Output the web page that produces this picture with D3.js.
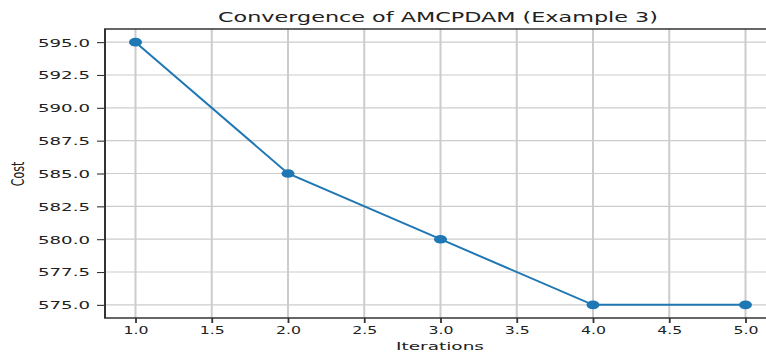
<!DOCTYPE html>
<html>
<head>
<meta charset="utf-8">
<script src="https://cdn.jsdelivr.net/npm/d3@7"></script>
<style>
  body { margin: 0; background: #fff; }
  svg { display: block; }
  text { font-family: "DejaVu Sans", sans-serif; fill: #222; }
</style>
</head>
<body>
<svg id="chart" width="766" height="352"></svg>
<script>
// values
const iterations = [1, 2, 3, 4, 5];
const cost = [595, 585, 580, 575, 575];
const xTicks = [1.0, 1.5, 2.0, 2.5, 3.0, 3.5, 4.0, 4.5, 5.0];
const yTicks = [575.0, 577.5, 580.0, 582.5, 585.0, 587.5, 590.0, 592.5, 595.0];

const W = 766, H = 352;
// the picture is stretched sideways, so text is widened too
const stretch = 1.6;
const margin = { top: 29, right: -10, bottom: 34, left: 105 };
const width = W - margin.left - margin.right;
const height = H - margin.top - margin.bottom;

const svg = d3.select('#chart');

const x = d3.scaleLinear().domain([0.8, 5.2]).range([0, width]);
const y = d3.scaleLinear().domain([574, 596]).range([height, 0]);

const main = svg.append('g')
    .attr('transform', `translate(${margin.left}, ${margin.top})`);

// grid
main.append('g').selectAll('line').data(xTicks).enter().append('line')
    .attr('x1', d => x(d)).attr('x2', d => x(d))
    .attr('y1', 0).attr('y2', height)
    .attr('stroke', '#cccccc').attr('stroke-width', 2);
main.append('g').selectAll('line').data(yTicks).enter().append('line')
    .attr('x1', 0).attr('x2', width)
    .attr('y1', d => y(d)).attr('y2', d => y(d))
    .attr('stroke', '#cccccc').attr('stroke-width', 1.2);

// axes
const xAxis = main.append('g')
    .attr('transform', `translate(0, ${height})`)
    .call(d3.axisBottom(x).tickValues(xTicks).tickFormat(d3.format('.1f')).tickSize(5).tickSizeOuter(0));
xAxis.select('.domain').remove();
xAxis.selectAll('line').attr('stroke', '#333').attr('stroke-width', 1.8);
xAxis.selectAll('text')
    .attr('y', 16).attr('dy', 0)
    .style('font-size', '11px').style('fill', '#222')
    .attr('textLength', 25).attr('lengthAdjust', 'spacingAndGlyphs')
    .attr('text-anchor', 'middle');

const yAxis = main.append('g')
    .call(d3.axisLeft(y).tickValues(yTicks).tickFormat(d3.format('.1f')).tickSize(8).tickSizeOuter(0));
yAxis.select('.domain').remove();
yAxis.selectAll('line').attr('stroke', '#333').attr('stroke-width', 1.1);
yAxis.selectAll('text')
    .attr('x', -15).attr('dy', '0.36em')
    .style('font-size', '11px').style('fill', '#222')
    .attr('textLength', 52).attr('lengthAdjust', 'spacingAndGlyphs');

// spines
main.append('line').attr('x1', 0).attr('x2', 0).attr('y1', 0).attr('y2', height)
    .attr('stroke', '#333').attr('stroke-width', 2);
main.append('line').attr('x1', -1).attr('x2', width).attr('y1', height).attr('y2', height)
    .attr('stroke', '#333').attr('stroke-width', 1.3);
main.append('line').attr('x1', -1).attr('x2', width).attr('y1', 0).attr('y2', 0)
    .attr('stroke', '#333').attr('stroke-width', 1.3);

// series
const pts = iterations.map((d, i) => ({ it: d, c: cost[i] }));
main.append('path')
    .datum(pts)
    .attr('fill', 'none')
    .attr('stroke', '#1f77b4')
    .attr('stroke-width', 2)
    .attr('d', d3.line().x(d => x(d.it)).y(d => y(d.c)));

main.append('g').selectAll('ellipse').data(pts).enter().append('ellipse')
    .attr('cx', d => x(d.it)).attr('cy', d => y(d.c))
    .attr('rx', 6.5).attr('ry', 4.3)
    .attr('fill', '#1f77b4');

// labels
svg.append('text')
    .attr('x', 438).attr('y', 22)
    .attr('text-anchor', 'middle')
    .style('font-size', '14px')
    .attr('textLength', 440).attr('lengthAdjust', 'spacingAndGlyphs')
    .text('Convergence of AMCPDAM (Example 3)');

svg.append('text')
    .attr('x', 440).attr('y', 350)
    .attr('text-anchor', 'middle')
    .style('font-size', '11px')
    .attr('textLength', 88).attr('lengthAdjust', 'spacingAndGlyphs')
    .text('Iterations');

svg.append('text')
    .attr('transform', `translate(24, 174) scale(${stretch}, 1) rotate(-90)`)
    .attr('text-anchor', 'middle')
    .style('font-size', '11px')
    .text('Cost');
</script>
</body>
</html>
